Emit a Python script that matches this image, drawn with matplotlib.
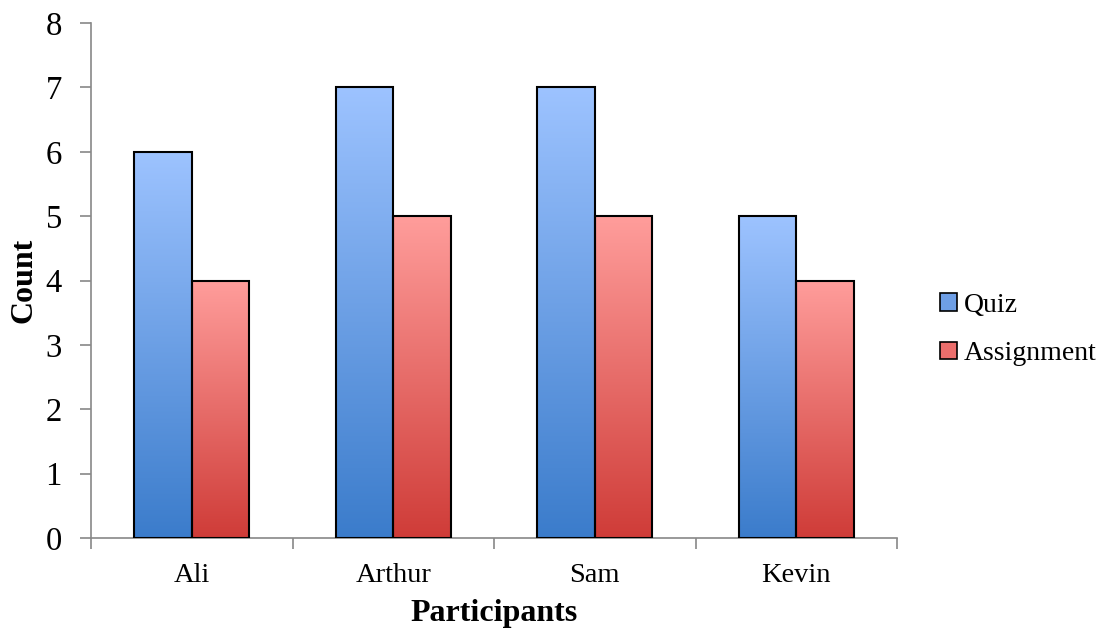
import matplotlib
matplotlib.use("Agg")
import matplotlib.pyplot as plt
import numpy as np
from matplotlib.colors import LinearSegmentedColormap
from matplotlib.patches import Patch

participants = ["Ali", "Arthur", "Sam", "Kevin"]
quiz = [6, 7, 7, 5]
assignment = [4, 5, 5, 4]
series_names = ["Quiz", "Assignment"]

blue_top, blue_bot = "#9DC3FF", "#3B7CCB"
red_top, red_bot = "#FF9D9B", "#CF3C38"

fig = plt.figure(figsize=(10.97, 6.30), dpi=100)
ax = fig.add_axes([0.083, 0.146, 0.7347, 0.8175])

x = np.arange(len(participants))
w = 0.285

bq = ax.bar(x - w/2, quiz, width=w, facecolor="none", edgecolor="black", linewidth=1.5, zorder=3)
ba = ax.bar(x + w/2, assignment, width=w, facecolor="none", edgecolor="black", linewidth=1.5, zorder=3)

grad = np.linspace(1, 0, 256).reshape(-1, 1)
for bars, top, bot in [(bq, blue_top, blue_bot), (ba, red_top, red_bot)]:
    cmap = LinearSegmentedColormap.from_list("g", [bot, top])
    for b in bars:
        x0, y0 = b.get_x(), b.get_y()
        bw, bh = b.get_width(), b.get_height()
        ax.imshow(grad, cmap=cmap, aspect="auto", extent=[x0, x0 + bw, y0, y0 + bh],
                  origin="upper", zorder=2, interpolation="bilinear")

ax.set_xlim(-0.5, len(participants) - 0.5)
ax.set_ylim(0, 8)
ax.set_yticks(range(0, 9))

ax.set_xticks(x)
ax.set_xticklabels(participants, fontsize=20.5, family="Liberation Serif")
ax.set_xticks(np.arange(-0.5, len(participants)), minor=True)
ax.tick_params(axis="x", which="major", length=0, pad=18)
ax.tick_params(axis="x", which="minor", length=8, color="#888888", width=1.2, direction="out")
ax.tick_params(axis="y", length=8, color="#888888", width=1.2, labelsize=23.5, pad=13)
for lab in ax.get_yticklabels():
    lab.set_family("Liberation Serif")

for s in ["top", "right"]:
    ax.spines[s].set_visible(False)
for s in ["left", "bottom"]:
    ax.spines[s].set_color("#888888")
    ax.spines[s].set_linewidth(1.2)

ax.set_xlabel("Participants", fontsize=23, fontweight="bold", family="Liberation Serif", labelpad=8)
ax.set_ylabel("Count", fontsize=23, fontweight="bold", family="Liberation Serif", labelpad=5)

handles = [Patch(facecolor="#6E9FE6", edgecolor="black", linewidth=1.2),
           Patch(facecolor="#EC6E6C", edgecolor="black", linewidth=1.2)]
fig.legend(handles, series_names, loc="center left", bbox_to_anchor=(0.857, 0.477),
           borderaxespad=0, borderpad=0, frameon=False,
           prop={"family": "Liberation Serif", "size": 20},
           handlelength=0.6, handleheight=0.6, handletextpad=0.25, labelspacing=0.85)

fig.savefig("out.png", dpi=100)
